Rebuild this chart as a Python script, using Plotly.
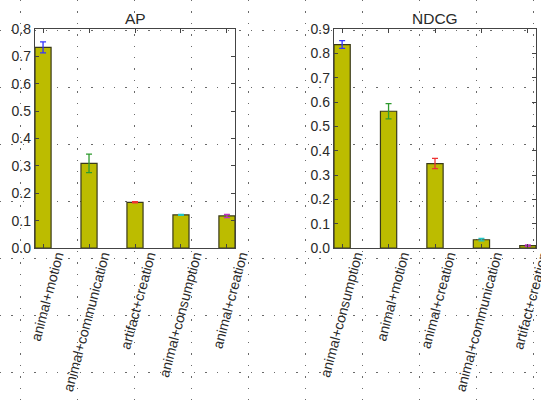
import plotly.graph_objects as go

# ---------------- data ----------------
ap_labels = ["animal+motion", "animal+communication", "artifact+creation",
             "animal+consumption", "animal+creation"]
ap_values = [0.733, 0.309, 0.167, 0.121, 0.117]
ap_errors = [0.020, 0.034, 0.002, 0.002, 0.006]

ndcg_labels = ["animal+consumption", "animal+motion", "animal+creation",
               "animal+communication", "artifact+creation"]
ndcg_values = [0.836, 0.562, 0.347, 0.034, 0.010]
ndcg_errors = [0.016, 0.031, 0.021, 0.005, 0.003]

ap_yticks = [0.0, 0.1, 0.2, 0.3, 0.4, 0.5, 0.6, 0.7, 0.8]
ndcg_yticks = [0.0, 0.1, 0.2, 0.3, 0.4, 0.5, 0.6, 0.7, 0.8, 0.9]

err_colors = ["#3333ff", "#2f9a2f", "#ee3333", "#22c4c4", "#c030c0"]

# ---------------- style ----------------
W, H = 541, 400
BAR = "#bcbc00"
EDGE = "#3a3a1a"
AXC = "#444444"
TXT = "#2a2a2a"
FONT = "Liberation Sans"

# background dotted page grid (pixel coordinates)
bg_x = [20, 77, 134, 191, 248, 305, 362, 419, 476, 533]
bg_y = [30, 87, 144, 201, 258, 315, 372]

fig = go.Figure()

# background layer subplot
fig.add_trace(go.Scatter(x=[None], y=[None], xaxis="x", yaxis="y",
                         hoverinfo="skip", showlegend=False))

def add_panel(labels, values, errors, xa, ya):
    for i, (lab, v, e) in enumerate(zip(labels, values, errors)):
        fig.add_trace(go.Bar(
            x=[lab], y=[v], width=0.35, xaxis=xa, yaxis=ya,
            marker=dict(color=BAR, line=dict(color=EDGE, width=1.2)),
            error_y=dict(type="data", array=[e], color=err_colors[i],
                         thickness=1.3, width=3),
            showlegend=False))

add_panel(ap_labels, ap_values, ap_errors, "x2", "y2")
add_panel(ndcg_labels, ndcg_values, ndcg_errors, "x3", "y3")

def px_x(p):
    return p / W

def px_y(p):
    return 1 - p / H

xaxis_common = dict(
    range=[-0.175, 4.175], tickangle=-75, ticks="inside", ticklen=4,
    tickcolor=AXC, showline=True, linecolor=AXC, linewidth=1.3,
    mirror="ticks", showgrid=False, zeroline=False, automargin=False,
    tickfont=dict(family=FONT, size=14, color=TXT),
    ticklabelshift=14, ticklabelstandoff=-7, categoryorder="array")
yaxis_common = dict(
    ticks="inside", ticklen=4, tickcolor=AXC, showline=True,
    linecolor=AXC, linewidth=1.3, mirror="ticks", showgrid=False,
    zeroline=False, tickformat=".1f", automargin=False,
    tickfont=dict(family=FONT, size=14, color=TXT))

ydom = [px_y(248), px_y(29)]

fig.update_layout(
    width=W, height=H,
    margin=dict(l=0, r=0, t=0, b=0, autoexpand=False),
    paper_bgcolor="white", plot_bgcolor="rgba(0,0,0,0)",
    barmode="overlay", showlegend=False,
    xaxis=dict(domain=[0, 1], range=[0, W], tickvals=bg_x, showgrid=True,
               gridcolor="#6a6a6a", gridwidth=1.4, griddash="1.4px,10px",
               showticklabels=False, ticks="", zeroline=False,
               showline=False, fixedrange=True, automargin=False),
    yaxis=dict(domain=[0, 1], range=[H, 0], tickvals=bg_y, showgrid=True,
               gridcolor="#6a6a6a", gridwidth=1.4, griddash="1.4px,10px",
               showticklabels=False, ticks="", zeroline=False,
               showline=False, fixedrange=True, automargin=False),
    xaxis2=dict(domain=[px_x(35), px_x(235)], anchor="y2",
                categoryarray=ap_labels, **xaxis_common),
    yaxis2=dict(domain=ydom, anchor="x2", range=[0, 0.8],
                tickvals=ap_yticks, **yaxis_common),
    xaxis3=dict(domain=[px_x(334), px_x(536)], anchor="y3",
                categoryarray=ndcg_labels, **xaxis_common),
    yaxis3=dict(domain=ydom, anchor="x3", range=[0, 0.9],
                tickvals=ndcg_yticks, **yaxis_common),
    annotations=[
        dict(text="AP", x=px_x(135), y=px_y(18), xref="paper", yref="paper",
             showarrow=False, xanchor="center", yanchor="middle",
             font=dict(family=FONT, size=15.5, color=TXT)),
        dict(text="NDCG", x=px_x(435), y=px_y(18), xref="paper", yref="paper",
             showarrow=False, xanchor="center", yanchor="middle",
             font=dict(family=FONT, size=15.5, color=TXT)),
    ],
)

fig.write_html(
    "out.html",
    config={"displayModeBar": False},
    post_script="document.body.style.margin='0';"
                "document.body.style.overflow='hidden';",
)
